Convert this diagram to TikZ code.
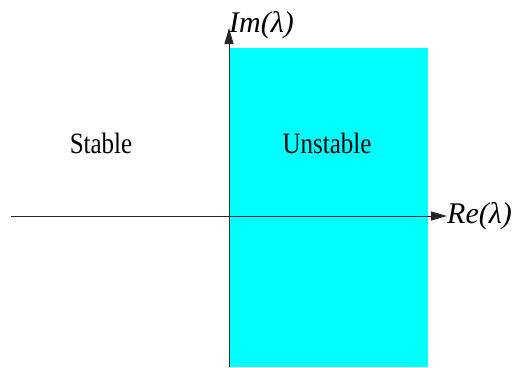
\documentclass[tikz,border=0pt]{standalone}
\usepackage{fontspec}
\setmainfont{Liberation Serif}
\newfontfamily\refserif{Liberation Serif}
\usetikzlibrary{arrows.meta}
\definecolor{regioncyan}{RGB}{0,255,255}
\begin{document}
\begin{tikzpicture}[x=1pt,y=-1pt,
  axis/.style={draw=black!85, line width=1pt, -{Triangle[length=16pt,width=9pt]}},
  lbl/.style={font=\refserif\fontsize{25}{30}\selectfont, inner sep=0pt, yscale=1.18},
  axlbl/.style={font=\refserif\fontsize{30}{33}\selectfont\itshape, inner sep=0pt}]
\useasboundingbox (0,0) rectangle (513,367);
\fill[regioncyan] (229,48) rectangle (428,367);
\coordinate (xs) at (11,216);
\coordinate (xe) at (447,216);
\coordinate (ys) at (229,367);
\coordinate (ye) at (229,28);
\draw[axis] (xs) -- (xe);
\draw[axis] (ys) -- (ye);
\node[axlbl, anchor=base west] (re) at (447,223) {Re(λ)};
\node[axlbl, anchor=base west] (im) at (229,32) {Im(λ)};
\node[lbl, anchor=base] (st) at (101,153) {Stable};
\node[lbl, anchor=base] (un) at (327,153) {Unstable};
\end{tikzpicture}
\end{document}
